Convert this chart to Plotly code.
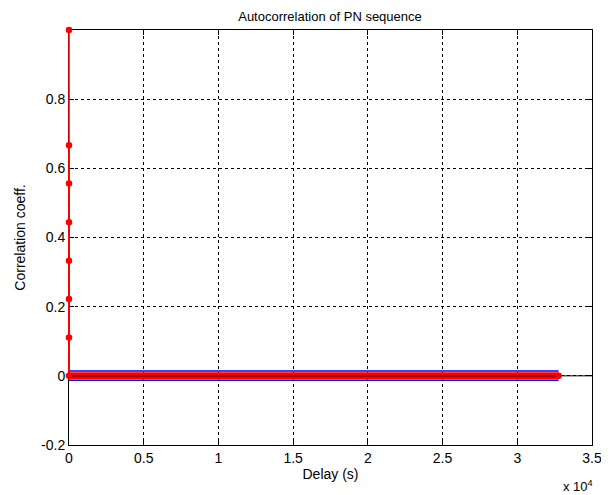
import plotly.graph_objects as go

# ---- data ----
peak_delays = [0, 0, 0, 0, 0, 0, 0]
peak_corr = [1.0, 0.667, 0.556, 0.444, 0.333, 0.222, 0.111]
band_delays = [0, 32767]          # extent of the dense sidelobe region
sidelobe_max = 0.014              # blue envelope upper
sidelobe_min = -0.013             # blue envelope lower
stem_band = [0.0, 0.0]            # red dense stems around zero
end_delay = [32767]
end_corr = [0.0]

x_range = [0, 35000]
y_range = [-0.2, 1.0]
x_ticks = [0, 5000, 10000, 15000, 20000, 25000, 30000, 35000]
x_tick_text = ["0", "0.5", "1", "1.5", "2", "2.5", "3", "3.5"]
y_ticks = [-0.2, 0, 0.2, 0.4, 0.6, 0.8]
y_tick_text = ["-0.2", "0", "0.2", "0.4", "0.6", "0.8"]

FONT = "Liberation Sans, Arial, sans-serif"
OFF = 8  # default page body margin

fig = go.Figure()

# baseline across the axes
fig.add_trace(go.Scatter(x=x_range, y=[0, 0], mode="lines",
                         line=dict(color="black", width=1), hoverinfo="skip"))

# blue envelope of the sidelobes
fig.add_trace(go.Scatter(
    x=[band_delays[0], band_delays[1], None, band_delays[0], band_delays[1]],
    y=[sidelobe_max, sidelobe_max, None, sidelobe_min, sidelobe_min],
    mode="lines", line=dict(color="#0000ff", width=1.5), hoverinfo="skip"))

# dense red stems (appear as a thick band)
fig.add_trace(go.Scatter(x=band_delays, y=stem_band, mode="lines",
                         line=dict(color="#ff0000", width=7), hoverinfo="skip"))
fig.add_trace(go.Scatter(x=band_delays, y=stem_band, mode="lines",
                         line=dict(color="black", width=1), hoverinfo="skip"))

# stems near zero delay: drawn as shapes (x in axis-domain units) so they are
# not clipped at the left edge of the plot area
shapes = []
for d, v in zip(peak_delays, peak_corr):
    xd = (d - x_range[0]) / (x_range[1] - x_range[0])
    shapes.append(dict(type="line", xref="x domain", yref="y",
                       x0=xd, x1=xd, y0=0, y1=v, layer="above",
                       line=dict(color="#ff0000", width=1.6)))

fig.add_trace(go.Scatter(x=peak_delays + [0] + end_delay,
                         y=peak_corr + [0] + end_corr, mode="markers",
                         marker=dict(color="#ff0000", size=6.5), cliponaxis=False))

axis_common = dict(
    showline=True, linecolor="black", linewidth=1, mirror="allticks",
    ticks="inside", ticklen=5, tickcolor="black",
    showgrid=True, gridcolor="black", gridwidth=1, griddash="3px,3px",
    zeroline=False, layer="below traces",
    tickfont=dict(family=FONT, size=14, color="black"),
    automargin=False,
)

W, H = 609 - OFF, 495 - OFF
fig.update_layout(
    width=W, height=H,
    margin=dict(l=69 - OFF, r=17, t=30 - OFF, b=50, autoexpand=False),
    paper_bgcolor="white", plot_bgcolor="white",
    showlegend=False,
    shapes=shapes,
    title=dict(text="Autocorrelation of PN sequence", x=(330 - OFF) / W,
               xanchor="center", xref="container", yref="container",
               y=1 - (16 - OFF) / H, yanchor="middle",
               font=dict(family=FONT, size=13, color="black")),
    xaxis=dict(range=x_range, tickvals=x_ticks, ticktext=x_tick_text,
               title=dict(text="Delay (s)", standoff=3,
                          font=dict(family=FONT, size=14, color="black")),
               **axis_common),
    yaxis=dict(range=y_range, tickvals=y_ticks, ticktext=y_tick_text,
               title=dict(text="Correlation coeff.", standoff=12,
                          font=dict(family=FONT, size=14, color="black")),
               **axis_common),
    annotations=[dict(text="x 10<sup>4</sup>", x=1.006, y=-0.075, xref="paper",
                      yref="paper", xanchor="right", yanchor="top",
                      showarrow=False,
                      font=dict(family=FONT, size=13, color="black"))],
)

fig.write_html("out.html")
